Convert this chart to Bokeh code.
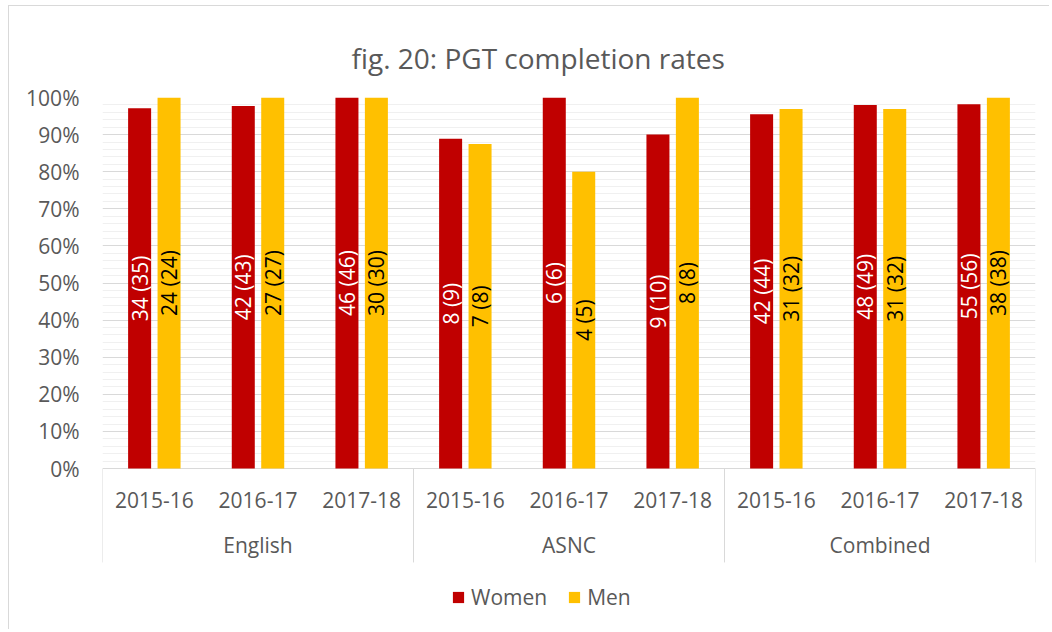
from math import pi

from bokeh.plotting import figure
from bokeh.models import (FactorRange, Range1d, FixedTicker, PrintfTickFormatter,
                          Legend, LegendItem, ColumnDataSource)
from bokeh.transform import dodge
from bokeh.core.properties import value
from bokeh.embed import file_html
from bokeh.resources import INLINE

# ---------------- data ----------------
groups = ["English", "ASNC", "Combined"]
years = ["2015-16", "2016-17", "2017-18"]

women_pct = [97.1, 97.7, 100.0, 88.9, 100.0, 90.0, 95.5, 98.0, 98.2]
men_pct = [100.0, 100.0, 100.0, 87.5, 80.0, 100.0, 96.9, 96.9, 100.0]

women_done = [34, 42, 46, 8, 6, 9, 42, 48, 55]
women_total = [35, 43, 46, 9, 6, 10, 44, 49, 56]
men_done = [24, 27, 30, 7, 4, 8, 31, 31, 38]
men_total = [24, 27, 30, 8, 5, 8, 32, 32, 38]

y_ticks = [0, 10, 20, 30, 40, 50, 60, 70, 80, 90, 100]
series_names = ["Women", "Men"]

# ---------------- styling ----------------
WOMEN = "#C00000"
MEN = "#FFC000"
GRID = "#D9D9D9"
MINOR = "#F0F0F0"
TXT = "#595959"
FONT = "Open Sans"

# y-range extends below 0 so the category box and legend sit inside the frame
Y_MIN = -42.3
BOX_BOTTOM = -25.3
YEAR_Y = -8.4
GROUP_Y = -20.6

factors = [(g, y) for g in groups for y in years]

src = ColumnDataSource(dict(
    x=factors,
    year=[y for g in groups for y in years],
    women=women_pct,
    men=men_pct,
    women_mid=[v / 2 for v in women_pct],
    men_mid=[v / 2 for v in men_pct],
    women_label=[f"{d} ({t})" for d, t in zip(women_done, women_total)],
    men_label=[f"{d} ({t})" for d, t in zip(men_done, men_total)],
))

# canvas offset inside the page (chart border line sits at x=8, y=5)
OX, OY = 9, 6
W, H = 1041, 624
p = figure(width=W, height=H, output_backend="svg", toolbar_location=None,
           x_range=FactorRange(*factors, factor_padding=0, group_padding=0,
                               range_padding=0),
           y_range=Range1d(Y_MIN, 100),
           min_border_left=102 - OX, min_border_right=W - (1035 - OX),
           min_border_top=97 - OY, min_border_bottom=H - (625 - OY))
p.styles = {"margin-left": "8px", "margin-top": "5px",
            "border-left": "1px solid #D9D9D9",
            "border-top": "1px solid #D9D9D9"}
p.outline_line_color = None
p.background_fill_color = "white"
p.border_fill_color = "white"

# title
p.title.text = "fig. 20: PGT completion rates"
p.title.text_font = FONT
p.title.text_font_size = "28px"
p.title.text_font_style = "normal"
p.title.text_color = TXT
p.title.align = "left"
p.title.offset = 249
p.title.standoff = 42

off = 0.142
bw = 0.222
rw = p.vbar(x=dodge("x", -off, range=p.x_range), top="women", bottom=0,
            width=bw, source=src, fill_color=WOMEN, line_color=None)
rm = p.vbar(x=dodge("x", off, range=p.x_range), top="men", bottom=0,
            width=bw, source=src, fill_color=MEN, line_color=None)

p.text(x=dodge("x", -off, range=p.x_range), y="women_mid", text="women_label",
       source=src, angle=pi / 2, text_align="center", text_baseline="middle",
       text_color="white", text_font=value(FONT), text_font_size=value("21px"))
p.text(x=dodge("x", off, range=p.x_range), y="men_mid", text="men_label",
       source=src, angle=pi / 2, text_align="center", text_baseline="middle",
       text_color="black", text_font=value(FONT), text_font_size=value("21px"))

# y axis / grid
minor = [v for v in range(0, 101, 2) if v % 10]
ticker = FixedTicker(ticks=y_ticks, minor_ticks=minor)
ya = p.yaxis[0]
ya.ticker = ticker
ya.formatter = PrintfTickFormatter(format="%d%%")
ya.axis_line_color = None
ya.major_tick_line_color = None
ya.minor_tick_line_color = None
ya.major_tick_out = 0
ya.minor_tick_out = 0
ya.major_label_standoff = 23
ya.major_label_text_font = FONT
ya.major_label_text_font_size = "21px"
ya.major_label_text_color = TXT

p.ygrid.ticker = ticker
p.ygrid.grid_line_color = GRID
p.ygrid.minor_grid_line_color = MINOR
p.xgrid.grid_line_color = None

# category axis (Excel-style multi-level box drawn inside the frame)
p.xaxis.visible = False
p.text(x="x", y=YEAR_Y, text="year", source=src, text_align="center",
       text_baseline="middle", text_color=TXT, text_font=value(FONT),
       text_font_size=value("21px"))
p.text(x=groups, y=[GROUP_Y] * len(groups), text=groups, text_align="center",
       text_baseline="middle", text_color=TXT, text_font=value(FONT),
       text_font_size=value("21px"))
bounds = [i * len(years) for i in range(len(groups) + 1)]
p.segment(x0=bounds, y0=[0] * len(bounds), x1=bounds,
          y1=[BOX_BOTTOM] * len(bounds), line_color=GRID, line_width=1)

legend = Legend(items=[LegendItem(label=series_names[0], renderers=[rw]),
                       LegendItem(label=series_names[1], renderers=[rm])],
                orientation="horizontal", location=(349, 14),
                glyph_width=14, glyph_height=14, label_standoff=6, spacing=20,
                padding=0, margin=0, border_line_color=None,
                background_fill_alpha=0,
                label_text_font=FONT, label_text_font_size="21px",
                label_text_color=TXT)
p.add_layout(legend)

open("out.html", "w").write(file_html(p, INLINE))
